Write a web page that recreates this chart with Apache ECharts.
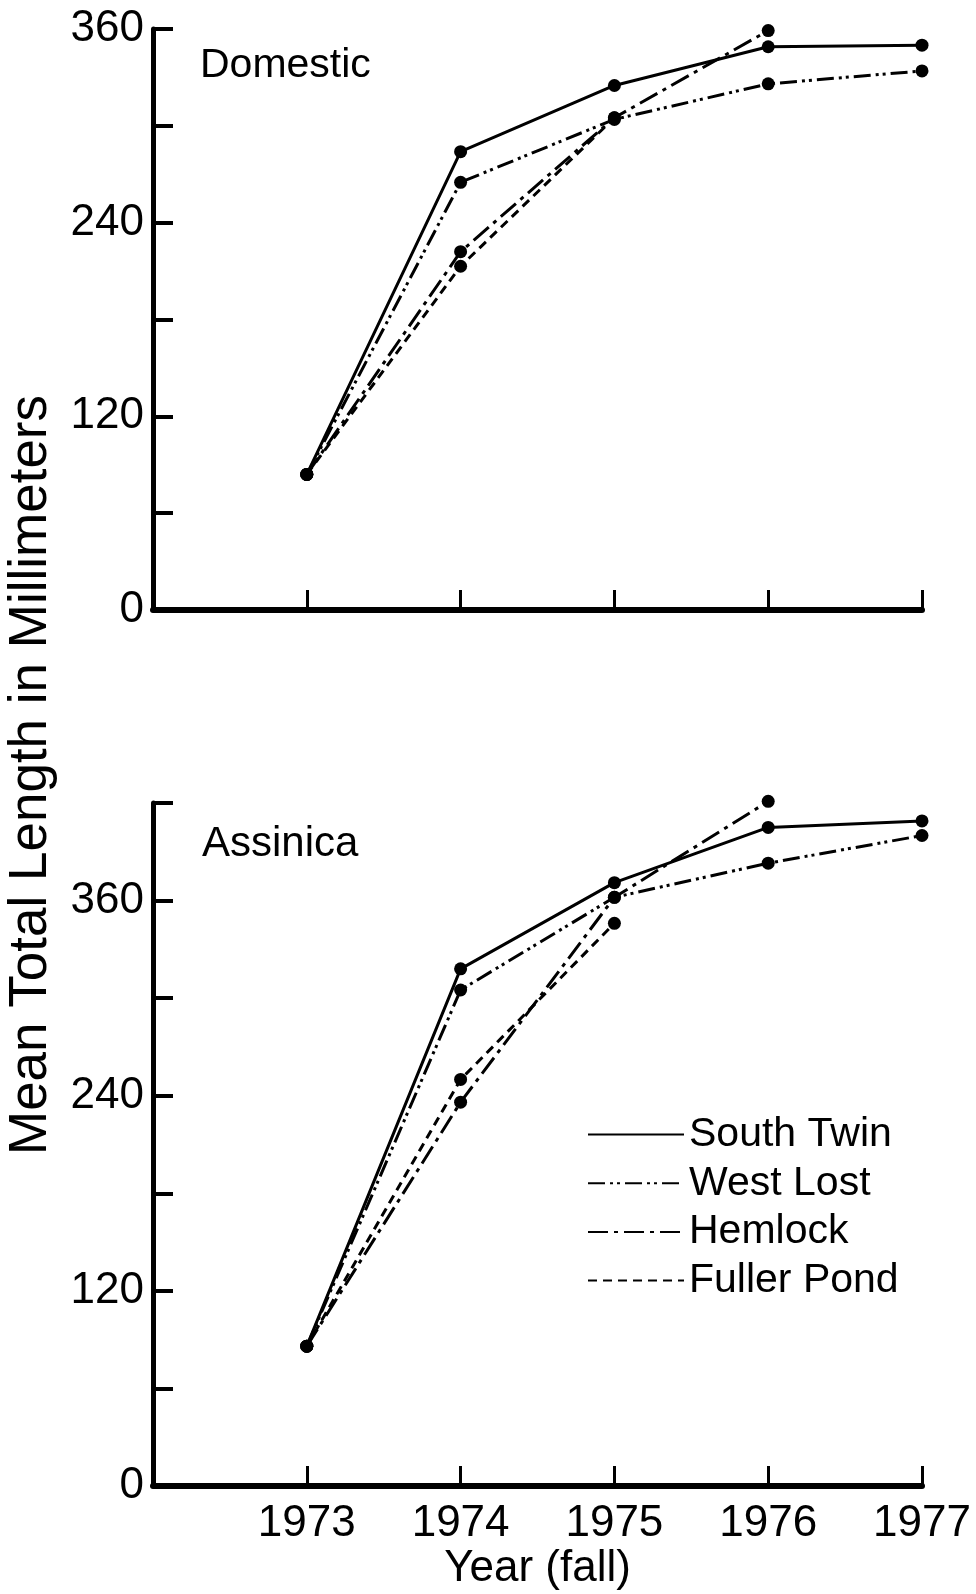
<!DOCTYPE html>
<html>
<head>
<meta charset="utf-8">
<script src="https://cdn.jsdelivr.net/npm/echarts@6/dist/echarts.min.js"></script>
<style>
  html, body { margin: 0; padding: 0; background: #fff; }
  #chart { width: 976px; height: 1594px; }
</style>
</head>
<body>
<div id="chart"></div>
<script>
// years of fall sampling
const years = [1973, 1974, 1975, 1976, 1977];

// Domestic strain, mean total length (mm)
const domSouthTwin = [84, 284, 325, 349, 350];
const domWestLost = [84, 265, 304, 326, 334];
const domHemlock = [84, 222, 305, 359, null];
const domFuller = [84, 213, 305, null, null];

// Assinica strain, mean total length (mm)
const assSouthTwin = [86, 318, 371, 405, 409];
const assWestLost = [86, 305, 362, 383, 400];
const assHemlock = [86, 236, 362, 421, null];
const assFuller = [86, 250, 346, null, null];

const lakeNames = ["South Twin", "West Lost", "Hemlock", "Fuller Pond"];
const yLabelValues = [0, 120, 240, 360];

const FONT = "Liberation Sans, Arial, sans-serif";

const dashes = {
  "South Twin": "solid",
  "West Lost": [17, 5, 3, 4, 3, 5],
  "Hemlock": [20, 6, 4, 6],
  "Fuller Pond": [9, 6],
};

const pairs = (vals) =>
  years.map((y, i) => (vals[i] == null ? null : [y, vals[i]])).filter(Boolean);

const makeSeries = (name, vals, idx) => ({
  name,
  type: "line",
  xAxisIndex: idx,
  yAxisIndex: idx,
  data: pairs(vals),
  symbol: "circle",
  symbolSize: 13,
  clip: false,
  itemStyle: { color: "#000" },
  lineStyle: { color: "#000", width: 3, type: dashes[name] },
  z: 10,
});

const series = [
  makeSeries("South Twin", domSouthTwin, 0),
  makeSeries("West Lost", domWestLost, 0),
  makeSeries("Hemlock", domHemlock, 0),
  makeSeries("Fuller Pond", domFuller, 0),
  makeSeries("South Twin", assSouthTwin, 1),
  makeSeries("West Lost", assWestLost, 1),
  makeSeries("Hemlock", assHemlock, 1),
  makeSeries("Fuller Pond", assFuller, 1),
];

const xAxisBase = (idx, showLabels) => ({
  type: "value",
  gridIndex: idx,
  position: "bottom",
  min: 1972,
  max: 1977,
  interval: 1,
  axisLine: { lineStyle: { color: "#000", width: 6 } },
  axisTick: { inside: true, length: 20, lineStyle: { color: "#000", width: 3 } },
  splitLine: { show: false },
  axisLabel: {
    show: showLabels,
    color: "#000",
    fontFamily: FONT,
    fontSize: 44,
    margin: 16,
    formatter: (v) => (v === 1972 ? "" : String(v)),
  },
});

const yAxisBase = (idx, max) => ({
  type: "value",
  gridIndex: idx,
  position: "left",
  min: 0,
  max: max,
  interval: 60,
  axisLine: { show: true, lineStyle: { color: "#000", width: 5 } },
  axisTick: { show: true, inside: true, length: 20, lineStyle: { color: "#000", width: 4 } },
  splitLine: { show: false },
  axisLabel: {
    color: "#000",
    fontFamily: FONT,
    fontSize: 44,
    margin: 9,
    formatter: (v) => (yLabelValues.includes(v) ? String(v) : ""),
  },
});

const option = {
  animation: false,
  backgroundColor: "#fff",
  grid: [
    { left: 153, right: 54, top: 29, height: 581 },
    { left: 153, right: 54, top: 803, height: 683 },
  ],
  xAxis: [
    xAxisBase(0, false),
    Object.assign(xAxisBase(1, true), {
      name: "Year (fall)",
      nameLocation: "middle",
      nameGap: 60,
      nameTextStyle: { color: "#000", fontFamily: FONT, fontSize: 44 },
    }),
  ],
  yAxis: [yAxisBase(0, 360), yAxisBase(1, 420)],
  legend: {
    data: lakeNames,
    orient: "vertical",
    left: 582,
    top: 1109,
    itemWidth: 96,
    itemHeight: 14,
    itemGap: 7.7,
    itemStyle: { opacity: 0 },
    textStyle: { color: "#000", fontFamily: FONT, fontSize: 41, lineHeight: 40 },
    selectedMode: false,
  },
  graphic: [
    {
      type: "text",
      x: 31,
      y: 775,
      rotation: Math.PI / 2,
      style: {
        text: "Mean Total Length in Millimeters",
        font: "53px " + FONT,
        fill: "#000",
        textAlign: "center",
        textVerticalAlign: "middle",
      },
    },
    {
      type: "text",
      x: 200,
      y: 66,
      style: {
        text: "Domestic",
        font: "41px " + FONT,
        fill: "#000",
        textAlign: "left",
        textVerticalAlign: "middle",
      },
    },
    {
      type: "text",
      x: 202,
      y: 844,
      style: {
        text: "Assinica",
        font: "42px " + FONT,
        fill: "#000",
        textAlign: "left",
        textVerticalAlign: "middle",
      },
    },
  ],
  series: series,
};

const chart = echarts.init(document.getElementById("chart"));
chart.setOption(option);
</script>
</body>
</html>
